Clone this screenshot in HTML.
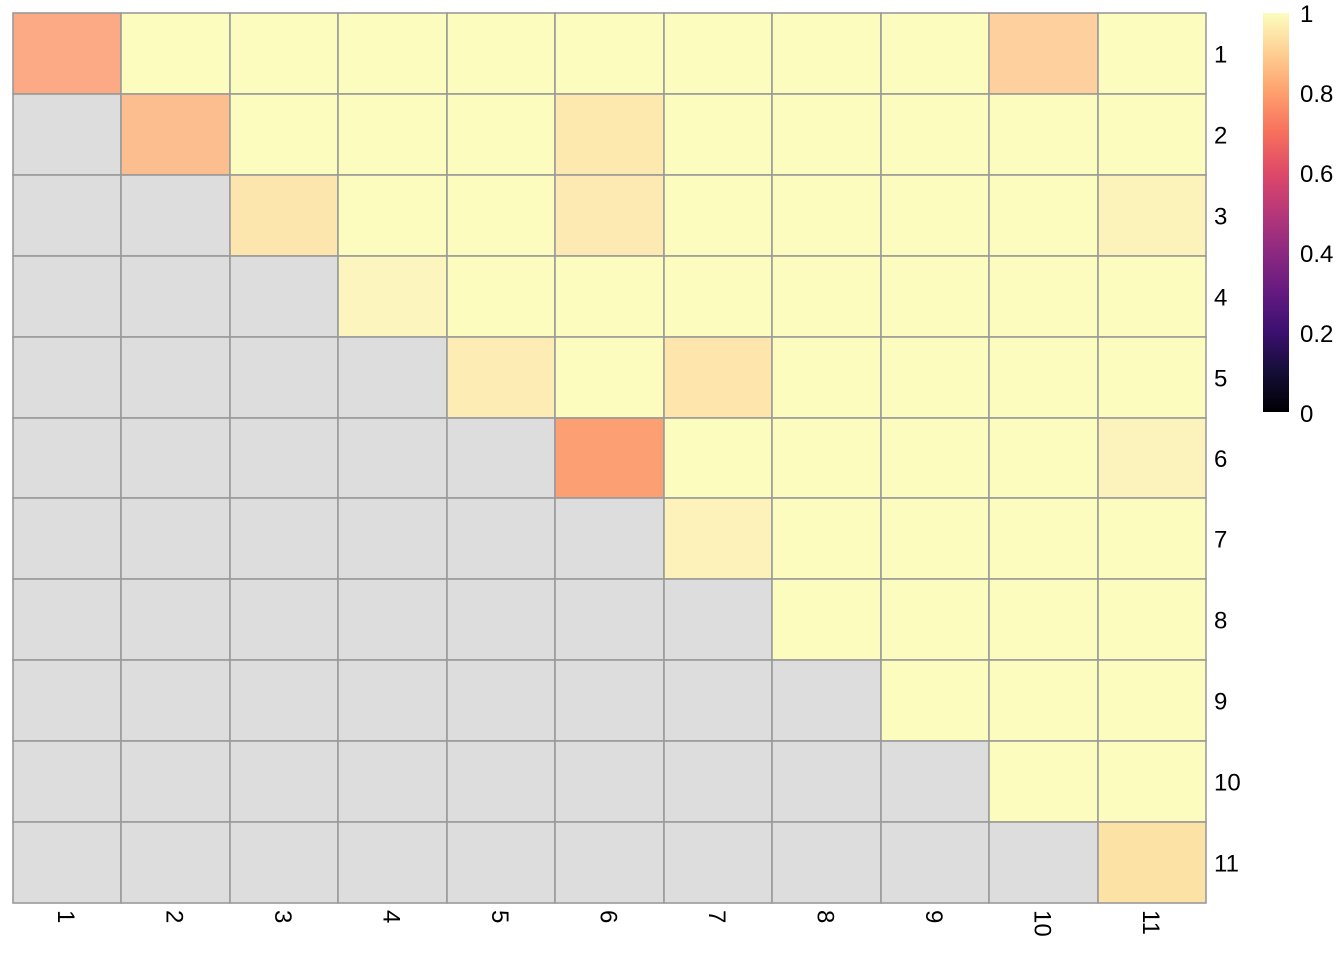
<!DOCTYPE html>
<html><head><style>body{margin:0;background:#fff}svg{display:block}text{font-family:"Liberation Sans",sans-serif;font-size:24px;fill:#000}</style></head>
<body>
<svg width="1344" height="960" xmlns="http://www.w3.org/2000/svg">
<defs><linearGradient id="g" x1="0" y1="1" x2="0" y2="0">
<stop offset="0" stop-color="#000004"/><stop offset="0.1" stop-color="#140E36"/><stop offset="0.2" stop-color="#3B0F70"/><stop offset="0.3" stop-color="#641A80"/><stop offset="0.4" stop-color="#8C2981"/><stop offset="0.5" stop-color="#B73779"/><stop offset="0.6" stop-color="#DE4968"/><stop offset="0.7" stop-color="#F7705C"/><stop offset="0.8" stop-color="#FE9F6D"/><stop offset="0.9" stop-color="#FECF92"/><stop offset="1" stop-color="#FCFDBF"/></linearGradient></defs>
<g id="cells"></g>
<rect x="1263" y="13" width="26" height="399" fill="url(#g)"/>
<text x="1300" y="22">1</text><text x="1300" y="102">0.8</text><text x="1300" y="182">0.6</text><text x="1300" y="262">0.4</text><text x="1300" y="342">0.2</text><text x="1300" y="422">0</text>
<g id="labs"></g>
</svg>
<script>
const xs=[13,121,230,338,447,555,664,772,881,989,1098,1206];
const ys=[13,94,175,256,337,418,498,579,660,741,822,903];
const sp={"0,0":"#FCA985","0,9":"#FDD09E","1,1":"#FDBE8F","1,5":"#FDE8AE","2,2":"#FDE6AD","2,5":"#FDEAB2","2,10":"#FCF3BB","3,3":"#FCF6BE","4,4":"#FDEDB4","4,6":"#FDE5AC","5,5":"#FC9F72","5,10":"#FCF3BC","6,6":"#FCF2BA","10,10":"#FDE2A6"};
let s="";
for(let r=0;r<11;r++)for(let c=0;c<11;c++){
 let f=c<r?"#DDDDDD":(sp[r+","+c]||"#FCFCBE");
 s+=`<rect x="${xs[c]}" y="${ys[r]}" width="${xs[c+1]-xs[c]}" height="${ys[r+1]-ys[r]}" fill="${f}" stroke="#9A9A9A" stroke-width="1.6"/>`;
}
document.getElementById("cells").innerHTML=s;
let l="";
for(let i=0;i<11;i++){
 let cy=(ys[i]+ys[i+1])/2;
 l+=`<text x="1214" y="${cy+9}">${i+1}</text>`;
 let cx=(xs[i]+xs[i+1])/2;
 l+=`<text transform="translate(${cx-9},910) rotate(90)" x="0" y="0">${i+1}</text>`;
}
document.getElementById("labs").innerHTML=l;
</script>
</body></html>
